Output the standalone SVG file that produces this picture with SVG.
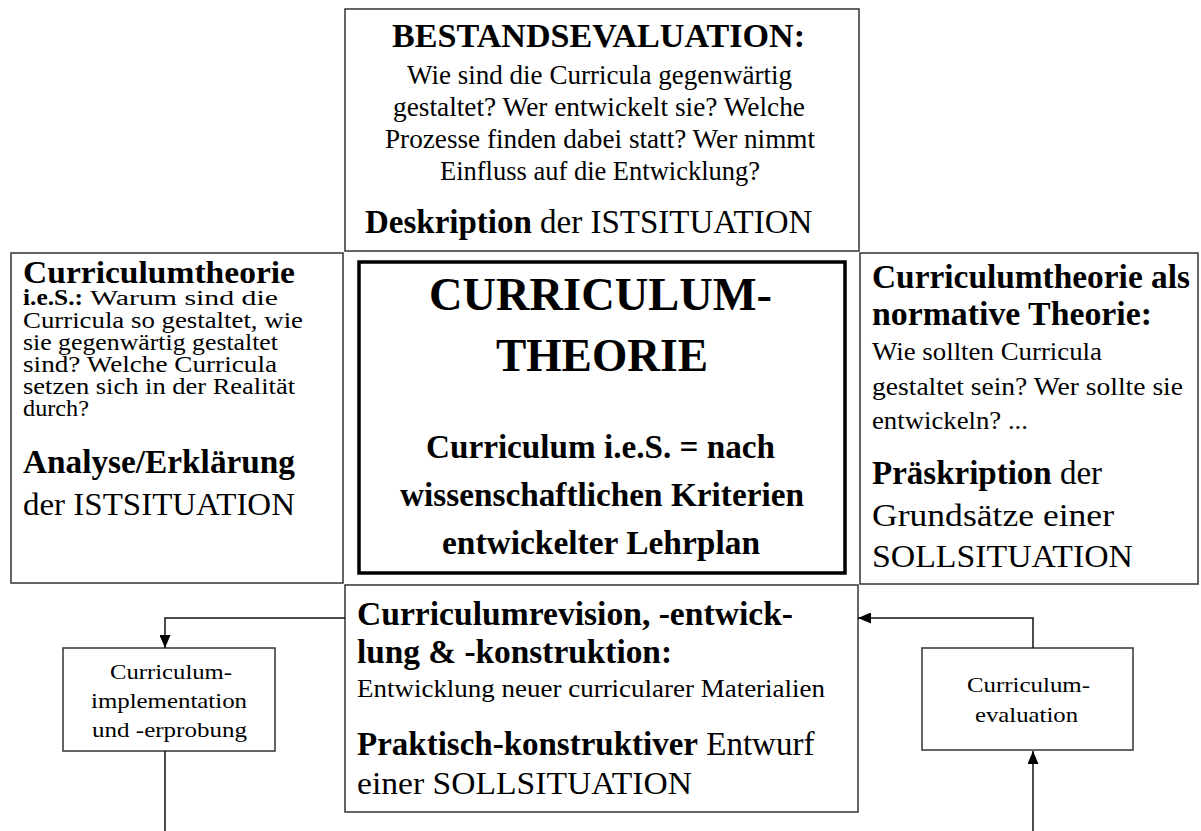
<svg xmlns="http://www.w3.org/2000/svg" width="1201" height="831" viewBox="0 0 1201 831">
  <style>
    .box { fill: #fff; stroke: #333; stroke-width: 1.5; }
    .core { fill: none; stroke: #000; stroke-width: 3.5; }
    .wire { fill: none; stroke: #111; stroke-width: 1.5; }
    text { font-family: "Liberation Serif", "Times New Roman", serif; fill: #000; }
    .b { font-weight: bold; }
    .m { text-anchor: middle; }
  </style>
  <defs>
    <marker id="tip" markerUnits="userSpaceOnUse" markerWidth="13" markerHeight="11" refX="13" refY="5.5" orient="auto">
      <path d="M0,0 L13,5.5 L0,11 z" fill="#000"/>
    </marker>
  </defs>

  <rect width="1201" height="831" fill="#fff"/>

  <!-- top: current state description -->
  <g id="bestandsevaluation">
    <rect class="box" x="345" y="9" width="514" height="242"/>
    <text class="b m" x="598.5" y="47" font-size="33" textLength="413" lengthAdjust="spacingAndGlyphs">BESTANDSEVALUATION:</text>
    <text class="m" x="599.5" y="84" font-size="27" textLength="385" lengthAdjust="spacingAndGlyphs">Wie sind die Curricula gegenwärtig</text>
    <text class="m" x="599" y="116" font-size="27" textLength="412" lengthAdjust="spacingAndGlyphs">gestaltet? Wer entwickelt sie? Welche</text>
    <text class="m" x="600" y="148" font-size="27" textLength="430" lengthAdjust="spacingAndGlyphs">Prozesse finden dabei statt? Wer nimmt</text>
    <text class="m" x="600" y="180" font-size="27" textLength="320" lengthAdjust="spacingAndGlyphs">Einfluss auf die Entwicklung?</text>
    <text x="365" y="233" font-size="33"><tspan class="b">Deskription</tspan> der ISTSITUATION</text>
  </g>

  <!-- left: explanatory theory -->
  <g id="theorie-ies">
    <rect class="box" x="11" y="253" width="332" height="330"/>
    <text class="b" x="23" y="283" font-size="32" textLength="272" lengthAdjust="spacingAndGlyphs">Curriculumtheorie</text>
    <text class="b" x="23" y="305" font-size="23" textLength="60" lengthAdjust="spacingAndGlyphs">i.e.S.:</text>
    <text x="90" y="305" font-size="20" textLength="188" lengthAdjust="spacingAndGlyphs">Warum sind die</text>
    <text x="23" y="328" font-size="23" textLength="280" lengthAdjust="spacingAndGlyphs">Curricula so gestaltet, wie</text>
    <text x="23" y="350" font-size="23" textLength="255" lengthAdjust="spacingAndGlyphs">sie gegenwärtig gestaltet</text>
    <text x="23" y="372" font-size="23" textLength="254" lengthAdjust="spacingAndGlyphs">sind? Welche Curricula</text>
    <text x="23" y="394" font-size="23" textLength="272" lengthAdjust="spacingAndGlyphs">setzen sich in der Realität</text>
    <text x="23" y="416" font-size="23" textLength="66" lengthAdjust="spacingAndGlyphs">durch?</text>
    <text class="b" x="23" y="473" font-size="33" textLength="272" lengthAdjust="spacingAndGlyphs">Analyse/Erklärung</text>
    <text x="23" y="515" font-size="32" textLength="272" lengthAdjust="spacingAndGlyphs">der ISTSITUATION</text>
  </g>

  <!-- centre: the core concept -->
  <g id="curriculumtheorie">
    <rect class="core" x="359" y="262" width="486" height="311"/>
    <text class="b m" x="600.5" y="310" font-size="46" textLength="343" lengthAdjust="spacingAndGlyphs">CURRICULUM-</text>
    <text class="b m" x="602" y="371" font-size="46" textLength="212" lengthAdjust="spacingAndGlyphs">THEORIE</text>
    <text class="b m" x="600.5" y="458" font-size="33" textLength="349" lengthAdjust="spacingAndGlyphs">Curriculum i.e.S. = nach</text>
    <text class="b m" x="602" y="506" font-size="33" textLength="404" lengthAdjust="spacingAndGlyphs">wissenschaftlichen Kriterien</text>
    <text class="b m" x="601" y="554" font-size="33" textLength="318" lengthAdjust="spacingAndGlyphs">entwickelter Lehrplan</text>
  </g>

  <!-- right: normative theory -->
  <g id="normative-theorie">
    <rect class="box" x="860" y="253" width="338" height="331"/>
    <text class="b" x="872" y="288" font-size="33" textLength="318" lengthAdjust="spacingAndGlyphs">Curriculumtheorie als</text>
    <text class="b" x="872" y="325" font-size="33" textLength="280" lengthAdjust="spacingAndGlyphs">normative Theorie:</text>
    <text x="872" y="360" font-size="25" textLength="230" lengthAdjust="spacingAndGlyphs">Wie sollten Curricula</text>
    <text x="872" y="395" font-size="25" textLength="311" lengthAdjust="spacingAndGlyphs">gestaltet sein? Wer sollte sie</text>
    <text x="872" y="429" font-size="25" textLength="156" lengthAdjust="spacingAndGlyphs">entwickeln? ...</text>
    <text x="872" y="484" font-size="33"><tspan class="b">Präskription</tspan> der</text>
    <text x="872" y="526" font-size="32" textLength="242" lengthAdjust="spacingAndGlyphs">Grundsätze einer</text>
    <text x="872" y="567" font-size="32" textLength="261" lengthAdjust="spacingAndGlyphs">SOLLSITUATION</text>
  </g>

  <!-- bottom: construction -->
  <g id="konstruktion">
    <rect class="box" x="345" y="585" width="513" height="227"/>
    <text class="b" x="357" y="625" font-size="33" textLength="436" lengthAdjust="spacingAndGlyphs">Curriculumrevision, -entwick-</text>
    <text class="b" x="357" y="663" font-size="33" textLength="315" lengthAdjust="spacingAndGlyphs">lung &amp; -konstruktion:</text>
    <text x="357" y="697" font-size="26" textLength="468" lengthAdjust="spacingAndGlyphs">Entwicklung neuer curricularer Materialien</text>
    <text x="357" y="755" font-size="33"><tspan class="b">Praktisch-konstruktiver</tspan> Entwurf</text>
    <text x="357" y="794" font-size="32" textLength="335" lengthAdjust="spacingAndGlyphs">einer SOLLSITUATION</text>
  </g>

  <!-- implementation -->
  <g id="implementation">
    <rect class="box" x="63" y="648" width="212" height="103"/>
    <text class="m" x="171" y="679" font-size="22" textLength="122" lengthAdjust="spacingAndGlyphs">Curriculum-</text>
    <text class="m" x="169" y="708" font-size="22" textLength="156" lengthAdjust="spacingAndGlyphs">implementation</text>
    <text class="m" x="169.5" y="737" font-size="22" textLength="155" lengthAdjust="spacingAndGlyphs">und -erprobung</text>
  </g>

  <!-- evaluation -->
  <g id="evaluation">
    <rect class="box" x="922" y="648" width="211" height="102"/>
    <text class="m" x="1028.5" y="692" font-size="22" textLength="123" lengthAdjust="spacingAndGlyphs">Curriculum-</text>
    <text class="m" x="1026.5" y="722" font-size="22" textLength="103" lengthAdjust="spacingAndGlyphs">evaluation</text>
  </g>

  <!-- cycle connectors -->
  <g id="connectors">
    <path class="wire" d="M345,618 H165 V648" marker-end="url(#tip)"/>
    <path class="wire" d="M165,751 V831"/>
    <path class="wire" d="M1033,648 V618 H858" marker-end="url(#tip)"/>
    <path class="wire" d="M1033,831 V751" marker-end="url(#tip)"/>
  </g>
</svg>
